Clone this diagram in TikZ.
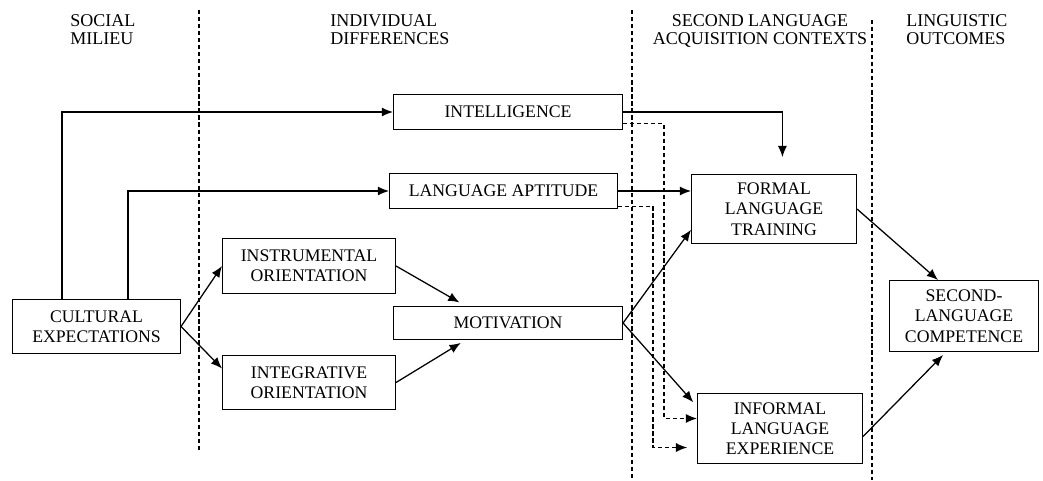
\documentclass[tikz,border=0pt]{standalone}
\usepackage{fontspec}
\setmainfont{Liberation Serif}
\usetikzlibrary{arrows.meta}
\begin{document}
\begin{tikzpicture}[
x=0.025cm,y=-0.025cm,
every node/.style={anchor=north west,font=\fontsize{12.6}{14.4}\selectfont},
box/.style={draw,line width=0.7pt,align=center,inner sep=1pt},
head/.style={align=left,inner sep=0pt,font=\fontsize{12.8}{13}\selectfont},
arr/.style={-{Latex[length=8pt,width=6.5pt]},line width=0.9pt},
darr/.style={arr,dash pattern=on 3pt off 2pt},
divide/.style={dash pattern=on 3pt off 2pt,line width=0.8pt},
]
\useasboundingbox(0,0)rectangle(1043,480);
%\draw[help lines,step=100](0,0)grid(1043,480);

%Columns
\draw[divide](199,10)--(199,452);
\draw[divide](632,10)--(632,480);
\draw[divide](872,20)--(872,480);
\node[head](social)at(70,14){SOCIAL\\MILIEU};
\node[head](indiv)at(330,14){INDIVIDUAL\\DIFFERENCES};
\node[head,align=center,anchor=north](slac)at(760,14){SECOND LANGUAGE\\ACQUISITION CONTEXTS};
\node[head](ling)at(906,14){LINGUISTIC\\OUTCOMES};

%Boxes
\node[box,minimum width=4.2cm,minimum height=1.35cm](cult)at(12,299){CULTURAL\\EXPECTATIONS};
\node[box,minimum width=5.725cm,minimum height=0.875cm](intel)at(393,94){INTELLIGENCE};
\node[box,minimum width=5.7cm,minimum height=0.875cm](apt)at(389,173){LANGUAGE APTITUDE};
\node[box,minimum width=4.325cm,minimum height=1.375cm](instr)at(222,238){INSTRUMENTAL\\ORIENTATION};
\node[box,minimum width=4.325cm,minimum height=1.35cm](integ)at(222,355){INTEGRATIVE\\ORIENTATION};
\node[box,minimum width=5.725cm,minimum height=0.825cm](motiv)at(393,306){MOTIVATION};
\node[box,minimum width=4.125cm,minimum height=1.725cm](formal)at(691,174){FORMAL\\LANGUAGE\\TRAINING};
\node[box,minimum width=4.125cm,minimum height=1.75cm](informal)at(697,393){INFORMAL\\LANGUAGE\\EXPERIENCE};
\node[box,minimum width=3.725cm,minimum height=1.775cm](comp)at(889,280){SECOND-\\LANGUAGE\\COMPETENCE};

%Arrows
\draw[arr]([xshift=1.25cm]cult.north west)|-(intel.west);
\draw[arr]([xshift=2.9cm]cult.north west)|-(apt.west);
\draw[arr](cult.east)--(instr.west);
\draw[arr](cult.east)--([yshift=0.35cm]integ.west);
\draw[arr,shorten >=5pt](instr.east)--([xshift=-1.06cm]motiv.north);
\draw[arr,shorten >=4pt](integ.east)--([xshift=-1.06cm]motiv.south);
\draw[arr,shorten >=12pt](intel.east)-|([xshift=0.21cm]formal.north);
\draw[arr](apt.east)--(apt.east-|formal.west);
\draw[arr](motiv.east)--([yshift=-0.52cm]formal.west);
\draw[arr,shorten >=4pt](motiv.east)--([yshift=0.55cm]informal.west);
\draw[darr]([yshift=-0.29cm]intel.east)--++(41,0)|-([yshift=0.25cm]informal.west);
\draw[darr,shorten >=7pt]([yshift=-0.38cm]apt.east)--++(35,0)|-([yshift=-0.475cm]informal.west);
\draw[arr](formal.east)--([xshift=-0.65cm]comp.north);
\draw[arr,shorten >=3pt]([yshift=-0.2cm]informal.east)--([xshift=-0.45cm]comp.south);

\end{tikzpicture}
\end{document}
